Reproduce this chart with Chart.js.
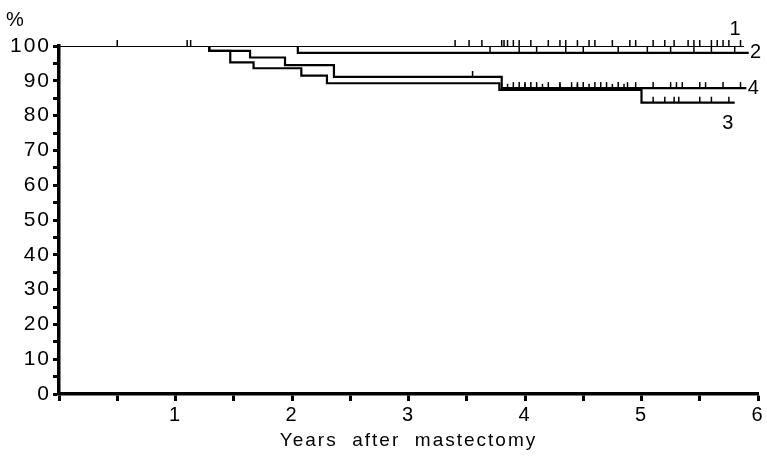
<!DOCTYPE html>
<html>
<head>
    <title>Survival after mastectomy</title>
    <script src="https://cdn.jsdelivr.net/npm/chart.js"></script>
    <style>
        body { margin: 0; background: #fff; }
        .container { width: 767px; height: 456px; }
    </style>
</head>
<body>
    <div class="container">
        <canvas id="survChart" width="767" height="456"></canvas>
    </div>

    <script>
        // Kaplan-Meier step curves (years, % surviving)
        const curveNames = ['1', '2', '3', '4'];
        const times1 = [0, 5.88];
        const surv1 = [100, 100];
        const times2 = [0, 2.05, 5.92];
        const surv2 = [100, 98, 98];
        const times3 = [0, 1.29, 1.47, 1.67, 2.08, 2.3, 3.78, 5.0, 5.8];
        const surv3 = [100, 98.6, 95.3, 93.6, 91.5, 89.3, 87.4, 83.7, 83.7];
        const times4 = [0, 1.29, 1.64, 1.94, 2.36, 3.8, 5.9];
        const surv4 = [100, 98.6, 96.7, 94.5, 91.1, 87.9, 87.9];

        // censored observations (small upward ticks)
        const censor1 = [0.5, 1.1, 1.13, 3.4, 3.52, 3.63, 3.8, 3.82, 3.85, 3.9, 3.95, 4.05, 4.2, 4.3,
            4.35, 4.45, 4.55, 4.6, 4.75, 4.9, 4.95, 5.1, 5.2, 5.28, 5.4, 5.45, 5.5, 5.6, 5.65, 5.7, 5.75, 5.85];
        const censor2 = [3.7, 3.95, 4.1, 4.35, 4.5, 4.8, 5.05, 5.25, 5.45, 5.6, 5.8];
        const censor3 = [3.85, 4.0, 4.15, 4.3, 4.45, 4.55, 4.75, 4.85, 5.1, 5.2, 5.28, 5.32, 5.5, 5.6, 5.75];
        const censor4 = [3.55, 3.9, 3.95, 4.0, 4.05, 4.1, 4.2, 4.3, 4.4, 4.45, 4.5, 4.6, 4.65, 4.7, 4.8,
            4.88, 4.95, 5.1, 5.25, 5.3, 5.35, 5.5, 5.55, 5.7, 5.85];

        const curves = [
            { times: times1, surv: surv1, censor: censor1 },
            { times: times2, surv: surv2, censor: censor2 },
            { times: times3, surv: surv3, censor: censor3 },
            { times: times4, surv: surv4, censor: censor4 }
        ];

        const FONT = "'Liberation Sans', Arial, sans-serif";

        function valueAt(c, t) {
            let v = c.surv[0];
            for (let i = 0; i < c.times.length; i++) {
                if (c.times[i] <= t) v = c.surv[i];
            }
            return v;
        }

        const spacing = {
            id: 'spacing',
            beforeDraw(chart) {
                chart.ctx.letterSpacing = '2px';
            }
        };

        const extras = {
            id: 'extras',
            afterDatasetsDraw(chart) {
                const ctx = chart.ctx;
                const xs = chart.scales.x, ys = chart.scales.y;
                ctx.save();
                // censor ticks
                ctx.strokeStyle = '#000';
                ctx.lineWidth = 1.5;
                curves.forEach(c => {
                    c.censor.forEach(t => {
                        const px = xs.getPixelForValue(t);
                        const py = ys.getPixelForValue(valueAt(c, t));
                        ctx.beginPath();
                        ctx.moveTo(px, py);
                        ctx.lineTo(px, py - 6);
                        ctx.stroke();
                    });
                });
                // curve names at line ends
                const offs = [[-8, -17], [8, 0], [-6, 21], [8, 0]];
                ctx.fillStyle = '#000';
                ctx.font = '20px ' + FONT;
                ctx.textAlign = 'center';
                ctx.textBaseline = 'middle';
                curves.forEach((c, i) => {
                    const n = c.times.length - 1;
                    const px = xs.getPixelForValue(c.times[n]) + offs[i][0];
                    const py = ys.getPixelForValue(c.surv[n]) + offs[i][1];
                    ctx.fillText(curveNames[i], px, py);
                });
                // % unit above the y axis
                ctx.fillText('%', 16, ys.top - 26);
                ctx.restore();
            }
        };

        const ctx = document.getElementById('survChart').getContext('2d');
        new Chart(ctx, {
            type: 'line',
            data: {
                datasets: curves.map((c, i) => ({
                    label: curveNames[i],
                    data: c.times.map((t, j) => ({ x: t, y: c.surv[j] })),
                    borderColor: '#000',
                    borderWidth: 2.2,
                    stepped: 'before',
                    pointRadius: 0,
                    fill: false
                }))
            },
            options: {
                responsive: false,
                animation: false,
                layout: { padding: { top: 46, right: 9, left: 0, bottom: 0 } },
                plugins: {
                    legend: { display: false },
                    tooltip: { enabled: false }
                },
                scales: {
                    x: {
                        type: 'linear',
                        min: 0,
                        max: 6,
                        afterFit: s => { s.height = 62; },
                        border: { color: '#000', width: 3.5 },
                        grid: { drawOnChartArea: false, tickLength: 7, tickColor: '#000', tickWidth: 3 },
                        ticks: {
                            stepSize: 0.5,
                            autoSkip: false,
                            maxRotation: 0,
                            padding: 2,
                            color: '#000',
                            font: { family: FONT, size: 20 },
                            callback: v => (Number.isInteger(v) && v > 0) ? v : ''
                        },
                        title: {
                            display: true,
                            text: 'Years  after  mastectomy',
                            color: '#000',
                            font: { family: FONT, size: 19 },
                            padding: { top: 0, bottom: 4 }
                        }
                    },
                    y: {
                        min: 0,
                        max: 100,
                        afterFit: s => { s.width = 59; },
                        border: { color: '#000', width: 3.5 },
                        grid: { drawOnChartArea: false, tickLength: 6, tickColor: '#000', tickWidth: 3 },
                        ticks: {
                            stepSize: 5,
                            autoSkip: false,
                            padding: 2,
                            color: '#000',
                            font: { family: FONT, size: 21 },
                            callback: v => v % 10 === 0 ? v : ''
                        }
                    }
                }
            },
            plugins: [spacing, extras]
        });
    </script>
</body>
</html>
